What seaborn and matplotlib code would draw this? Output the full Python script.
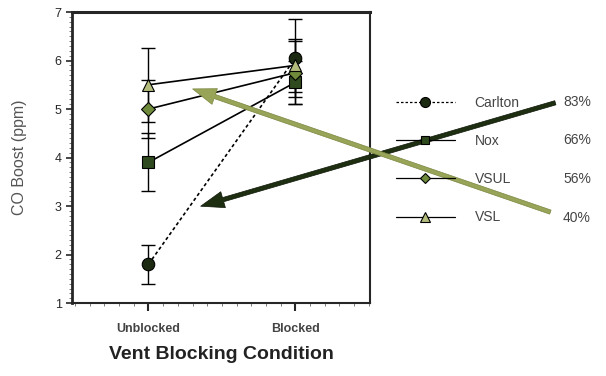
import matplotlib
matplotlib.use("Agg")
import matplotlib.pyplot as plt
import seaborn as sns
import pandas as pd
from matplotlib.ticker import AutoMinorLocator

# Data
conditions = ["Unblocked", "Blocked"]
series = ["Carlton", "Nox", "VSUL", "VSL"]
carlton = [1.8, 6.05]
nox = [3.9, 5.55]
vsul = [5.0, 5.75]
vsl = [5.5, 5.9]
carlton_err = [0.4, 0.8]
nox_err = [0.6, 0.45]
vsul_err = [0.6, 0.65]
vsl_err = [0.76, 0.55]
percent_labels = ["83%", "66%", "56%", "40%"]

values = [carlton, nox, vsul, vsl]
errors = [carlton_err, nox_err, vsul_err, vsl_err]
markers = ["o", "s", "D", "^"]
msizes = [9, 8, 7, 9]
fills = ["#1c2a12", "#2f4a1e", "#6e8a3a", "#b4bc7c"]
styles = [(0, (2, 1.6)), "-", "-", "-"]

sns.set_theme(style="ticks")
plt.rcParams["font.family"] = ["Liberation Sans", "DejaVu Sans"]

fig = plt.figure(figsize=(6.06, 3.76), dpi=100)
ax = fig.add_axes([0.119, 0.194, 0.492, 0.774])

x = list(range(len(conditions)))
for name, vals, err, m, ms, fc, ls in zip(series, values, errors, markers, msizes, fills, styles):
    df = pd.DataFrame({"x": x, "y": vals})
    ax.errorbar(x, vals, yerr=err, fmt="none", ecolor="black", elinewidth=1,
                capsize=5, capthick=1, zorder=2)
    sns.lineplot(data=df, x="x", y="y", ax=ax, color="black", linewidth=1.2,
                 linestyle=ls, marker=m, markersize=ms, markerfacecolor=fc,
                 markeredgecolor="black", markeredgewidth=0.8, label=name, zorder=3)

ax.set_xlim(-0.52, 1.51)
ax.set_ylim(1, 7)
ax.set_xticks(x)
ax.set_xticklabels(conditions, fontsize=9, color="#444444", fontweight="bold")
ax.set_yticks(range(1, 8))
ax.tick_params(axis="y", labelsize=9, width=1.2, length=4)
ax.tick_params(axis="x", width=1.5, length=6, pad=8)
ax.xaxis.set_minor_locator(AutoMinorLocator(10))
ax.yaxis.set_minor_locator(AutoMinorLocator(10))
ax.tick_params(which="minor", length=2, width=0.6, color="#666666")
for s in ax.spines.values():
    s.set_linewidth(1.5)
ax.spines["top"].set_linewidth(2.2)
ax.spines["left"].set_linewidth(2)

ax.set_ylabel("CO Boost (ppm)", fontsize=11.5, color="#555555", labelpad=20)
ax.set_xlabel("Vent Blocking Condition", fontsize=14, fontweight="bold",
              color="#222222", labelpad=8)

leg = ax.legend(loc="upper left", bbox_to_anchor=(390 / 606, 1 - 90 / 376),
                bbox_transform=fig.transFigure, frameon=False, fontsize=10,
                handlelength=4.3, handletextpad=1.4, labelspacing=1.75,
                borderaxespad=0, markerscale=0.8)
for t in leg.get_texts():
    t.set_color("#444444")
for h in leg.get_lines():
    h.set_linewidth(0.9)

for i, p in enumerate(percent_labels):
    fig.text(563 / 606, 1 - (102 + 38.5 * i) / 376, p, fontsize=10,
             color="#444444", va="center", ha="left")

# arrows
arrow_style = "simple,head_length=1.2,head_width=0.85,tail_width=0.22"
ax.annotate("", xy=(198 / 606, 1 - 207 / 376), xycoords="figure fraction",
            xytext=(558 / 606, 1 - 102 / 376), textcoords="figure fraction",
            arrowprops=dict(arrowstyle=arrow_style, facecolor="#1e2e10",
                            edgecolor="#0e1608", mutation_scale=14, lw=0.5),
            zorder=5)
ax.annotate("", xy=(190 / 606, 1 - 88 / 376), xycoords="figure fraction",
            xytext=(553 / 606, 1 - 213 / 376), textcoords="figure fraction",
            arrowprops=dict(arrowstyle=arrow_style, facecolor="#98a458",
                            edgecolor="#7c8640", mutation_scale=14, lw=0.5),
            zorder=5)

fig.savefig("out.png", dpi=100)
